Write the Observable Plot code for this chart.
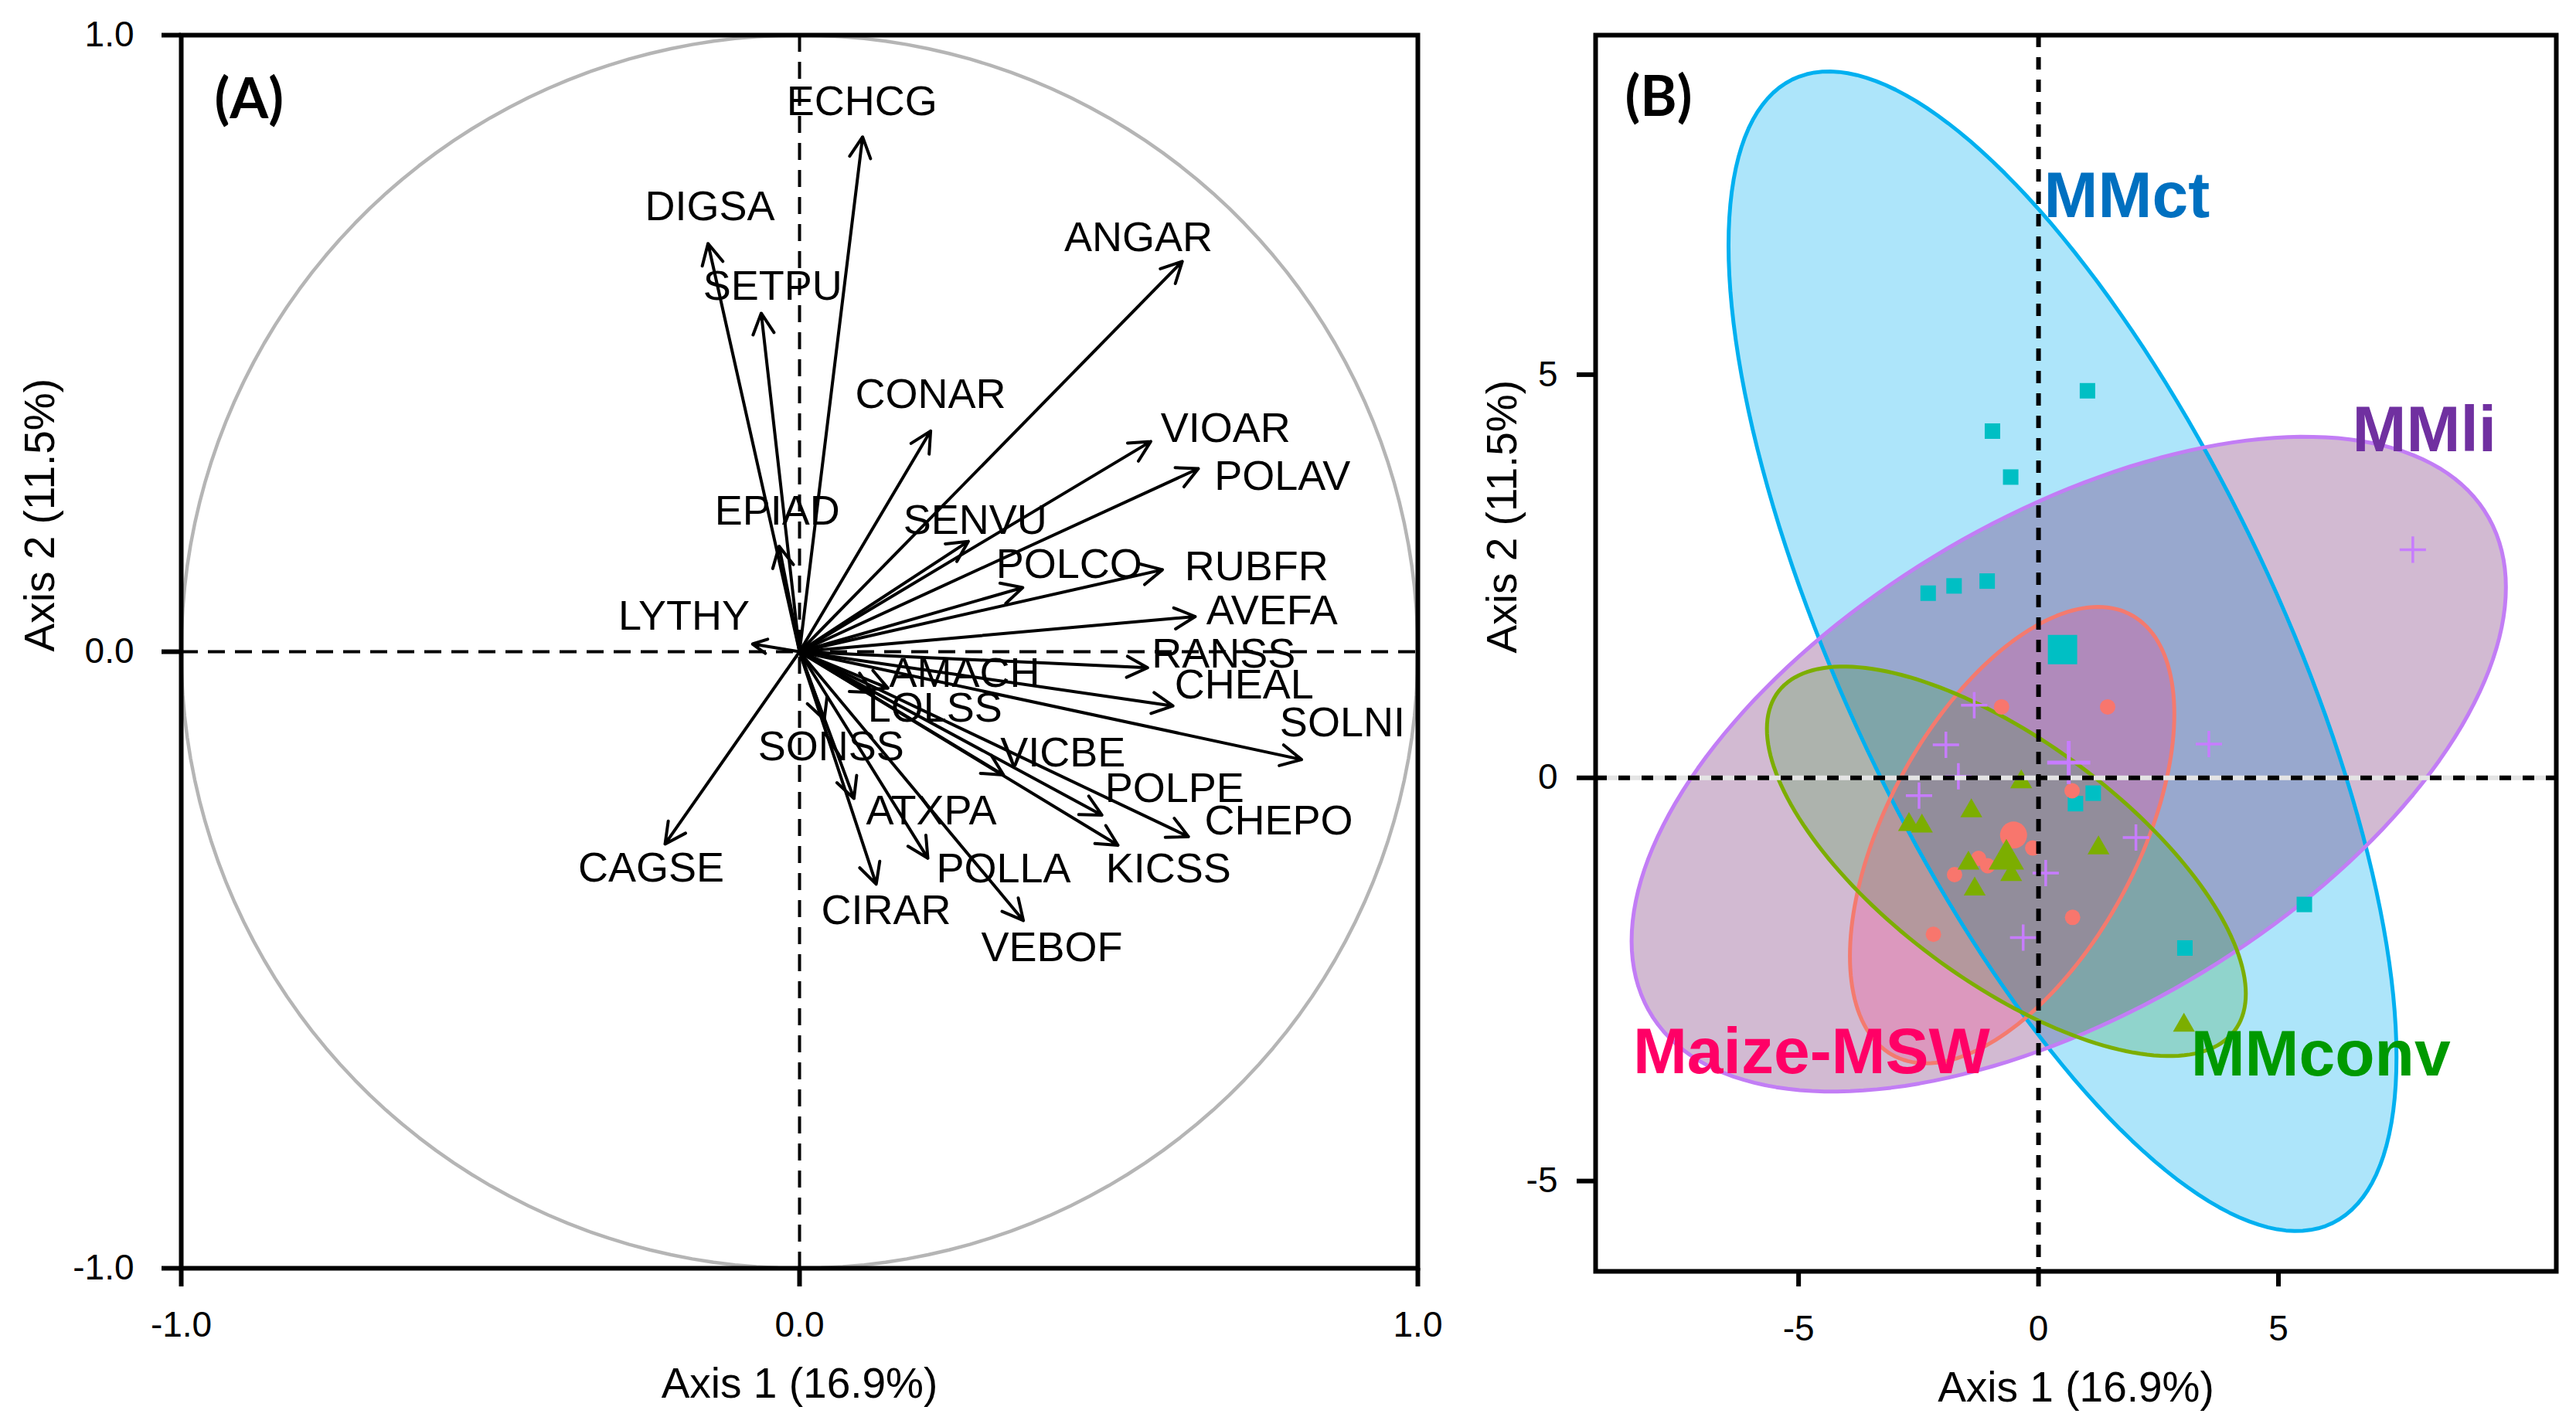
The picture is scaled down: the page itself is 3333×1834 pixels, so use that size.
<!DOCTYPE html>
<html><head><meta charset="utf-8">
<script src="https://cdn.jsdelivr.net/npm/d3@7"></script>
<script src="https://cdn.jsdelivr.net/npm/@observablehq/plot@0.6"></script>
<style>
html,body{margin:0;padding:0;background:#fff;}
#wrap{position:relative;width:3333px;height:1834px;overflow:hidden;background:#fff;}
#pa{position:absolute;left:0;top:0;width:1900px;height:1834px;}
#pb{position:absolute;left:1900px;top:0;width:1433px;height:1834px;}
</style></head><body>
<div id="wrap"><div id="pa"></div><div id="pb"></div></div>
<script>
const FONT = '"Liberation Sans", Arial, Helvetica, sans-serif';

// ---------------- Panel A data: correlation circle ----------------
const species = ["ECHCG","DIGSA","SETPU","ANGAR","CONAR","VIOAR","POLAV","EPIAD","SENVU","POLCO","RUBFR","AVEFA","LYTHY","RANSS","CHEAL","AMACH","LOLSS","SOLNI","SONSS","VICBE","POLPE","CHEPO","ATXPA","CAGSE","POLLA","KICSS","CIRAR","VEBOF"];
const tipX = [0.102,-0.148,-0.062,0.619,0.212,0.568,0.645,-0.033,0.273,0.361,0.587,0.640,-0.076,0.563,0.604,0.143,0.118,0.812,0.040,0.330,0.489,0.629,0.088,-0.2175,0.2075,0.515,0.124,0.362];
const tipY = [0.835,0.662,0.549,0.633,0.358,0.341,0.297,0.171,0.179,0.104,0.133,0.057,0.0125,-0.026,-0.088,-0.059,-0.066,-0.175,-0.110,-0.200,-0.265,-0.300,-0.238,-0.312,-0.335,-0.314,-0.377,-0.436];
const labelX = [0.101,-0.145,-0.0435,0.548,0.212,0.689,0.781,-0.036,0.284,0.436,0.739,0.764,-0.187,0.686,0.719,0.267,0.219,0.878,0.051,0.426,0.6065,0.775,0.213,-0.240,0.330,0.5966,0.140,0.408];
const labelY = [0.892,0.721,0.592,0.671,0.417,0.362,0.284,0.228,0.213,0.141,0.137,0.0665,0.057,-0.0044,-0.054,-0.035,-0.092,-0.116,-0.155,-0.165,-0.222,-0.275,-0.258,-0.351,-0.352,-0.352,-0.420,-0.480];
const ticksA = [-1, 0, 1];

// ---------------- Panel B data: group scores ----------------
const groups = ["MMct","MMli","Maize-MSW","MMconv"];
const mmctX = [1.02,-0.96,-0.58,-2.30,-1.76,-1.07,0.77,1.14,3.05,5.54];
const mmctY = [4.80,4.30,3.73,2.29,2.38,2.44,-0.32,-0.19,-2.11,-1.57];
const mmliX = [7.80,3.55,-1.34,-1.93,-1.67,-2.49,0.15,-0.32,2.03];
const mmliY = [2.83,0.42,0.90,0.41,0.02,-0.22,-1.18,-1.98,-0.74];
const mswX = [-0.77,1.44,0.70,-0.12,-1.25,-1.06,-1.75,0.71,-2.19];
const mswY = [0.88,0.88,-0.16,-0.87,-1.00,-1.09,-1.20,-1.73,-1.94];
const convX = [-0.36,-1.40,-2.70,-2.43,1.25,-0.57,-1.46,-1.33,3.03];
const convY = [-0.05,-0.41,-0.58,-0.60,-0.87,-1.20,-1.06,-1.38,-3.07];
const centroidX = [0.50, 0.63, -0.52, -0.67];
const centroidY = [1.59, 0.19, -0.71, -1.01];
// ellipse parameters: centre, spread along axes, correlation
const ellCX = [0.50, 0.63, -0.55, -0.67];
const ellCY = [1.57, 0.17, -0.71, -1.035];
const ellSX = [6.96, 9.11, 3.38, 4.99];
const ellSY = [7.19, 4.06, 2.83, 2.415];
const ellRho = [-0.70, 0.54, 0.53, -0.68];
const groupLabelX = [1.84, 8.04, -4.73, 5.88];
const groupLabelY = [7.21, 4.31, -3.40, -3.43];
const ticksB = [-5, 0, 5];

// styles
const pointColor = ["#00BFC4","#C77CFF","#F8766D","#7CAE00"];
const ellStroke = ["#00B0F0","#C27DF5","#F47A6E","#7CAE00"];
const ellFill = ["#00AEEF","#6A1B6A","#FF3080","#2A9A2A"];
const ellFillOpacity = [0.32, 0.30, 0.24, 0.22];
const labelColor = ["#0070C0","#7030A0","#FF0066","#009900"];

// ---------------- build A ----------------
const arrowsA = species.map((s, i) => ({name: s, x0: 0, y0: 0, x: tipX[i], y: tipY[i], lx: labelX[i], ly: labelY[i]}));
const circle = d3.range(0, 361, 2).map(a => ({x: Math.cos(a * Math.PI / 180), y: Math.sin(a * Math.PI / 180)}));

const plotA = Plot.plot({
  width: 1900, height: 1834,
  marginLeft: 234, marginRight: 66, marginTop: 45, marginBottom: 193,
  x: {domain: [-1, 1]}, y: {domain: [-1, 1]},
  style: {fontFamily: FONT, background: "white", color: "black"},
  marks: [
    Plot.line(circle, {x: "x", y: "y", stroke: "#b5b5b5", strokeWidth: 4.5}),
    Plot.ruleX([0], {stroke: "black", strokeWidth: 4, strokeDasharray: "22,13"}),
    Plot.ruleY([0], {stroke: "black", strokeWidth: 4, strokeDasharray: "22,13"}),
    Plot.arrow(arrowsA, {x1: "x0", y1: "y0", x2: "x", y2: "y", stroke: "black", strokeWidth: 4, headAngle: 54, headLength: 11.25}),
    Plot.text(arrowsA, {x: "lx", y: "ly", text: "name", fontSize: 54, fill: "black", textAnchor: "middle", lineAnchor: "middle"}),
    Plot.text(["(A)"], {frameAnchor: "top-left", dx: 43, dy: 84, textAnchor: "start", lineAnchor: "middle", fontSize: 72, fontWeight: "bold", fontFamily: "Lato, 'Open Sans', sans-serif", fill: "black"}),
    Plot.frame({stroke: "black", strokeWidth: 6}),
    Plot.axisX(ticksA, {anchor: "bottom", tickSize: 24, tickPadding: 32, strokeWidth: 6, fontSize: 46, tickFormat: d => d.toFixed(1), label: null}),
    Plot.axisY(ticksA, {anchor: "left", tickSize: 25, tickPadding: 36, strokeWidth: 6, fontSize: 46, tickFormat: d => d.toFixed(1), label: null}),
    Plot.text(["Axis 1 (16.9%)"], {frameAnchor: "bottom", dy: 167, lineAnchor: "bottom", fontSize: 55, fill: "black"}),
    Plot.text(["Axis 2 (11.5%)"], {frameAnchor: "left", dx: -204, rotate: -90, lineAnchor: "top", fontSize: 55, fill: "black"})
  ]
});
document.getElementById("pa").appendChild(plotA);

// ---------------- build B ----------------
function ellipse(i) {
  const r = ellRho[i], q = Math.sqrt(1 - r * r);
  return d3.range(0, 360, 2).map(a => {
    const t = a * Math.PI / 180;
    return {x: ellCX[i] + ellSX[i] * Math.cos(t), y: ellCY[i] + ellSY[i] * (r * Math.cos(t) + q * Math.sin(t))};
  });
}
const ells = groups.map((g, i) => ellipse(i));
const pts = (X, Y) => X.map((x, i) => ({x, y: Y[i]}));
const ctPts = pts(mmctX, mmctY), liPts = pts(mmliX, mmliY), swPts = pts(mswX, mswY), cvPts = pts(convX, convY);
const cent = groups.map((g, i) => ({g, x: centroidX[i], y: centroidY[i]}));
const glabels = groups.map((g, i) => ({g, x: groupLabelX[i], y: groupLabelY[i], c: labelColor[i]}));

const marksB = [];
ells.forEach((e, i) => marksB.push(Plot.line(e, {x: "x", y: "y", curve: "linear-closed", stroke: "none", fill: ellFill[i], fillOpacity: ellFillOpacity[i]})));
ells.forEach((e, i) => marksB.push(Plot.line(e, {x: "x", y: "y", curve: "linear-closed", stroke: ellStroke[i], strokeWidth: 5, fill: "none"})));
marksB.push(
  Plot.dot(ctPts, {x: "x", y: "y", symbol: "square", r: 11.3, fill: pointColor[0], stroke: "none"}),
  Plot.dot(swPts, {x: "x", y: "y", symbol: "circle", r: 10, fill: pointColor[2], stroke: "none"}),
  Plot.dot(cvPts, {x: "x", y: "y", symbol: "triangle", r: 10.5, fill: pointColor[3], stroke: "none"}),
  Plot.dot(liPts, {x: "x", y: "y", symbol: "plus", r: 11, stroke: pointColor[1], strokeWidth: 3.5, fill: "none"}),
  Plot.dot([cent[0]], {x: "x", y: "y", symbol: "square", r: 21.4, fill: pointColor[0], stroke: "none"}),
  Plot.dot([cent[2]], {x: "x", y: "y", symbol: "circle", r: 17.5, fill: pointColor[2], stroke: "none"}),
  Plot.dot([cent[3]], {x: "x", y: "y", symbol: "triangle", r: 17, fill: pointColor[3], stroke: "none"}),
  Plot.dot([cent[1]], {x: "x", y: "y", symbol: "plus", r: 18, stroke: pointColor[1], strokeWidth: 5, fill: "none"}),
  Plot.ruleY([0], {stroke: "#e4e4e4", strokeWidth: 6}),
  Plot.ruleY([0], {stroke: "black", strokeWidth: 6, strokeDasharray: "15,15"}),
  Plot.ruleX([0], {stroke: "black", strokeWidth: 6, strokeDasharray: "16,13"}),
  Plot.text(glabels, {x: "x", y: "y", text: "g", fill: "c", fontSize: 84, fontWeight: "bold", textAnchor: "middle", lineAnchor: "middle"}),
  Plot.text(["(B)"], {frameAnchor: "top-left", dx: 38, dy: 81, textAnchor: "start", lineAnchor: "middle", fontSize: 72, fontWeight: "bold", fontFamily: "Lato, 'Open Sans', sans-serif", fill: "black"}),
  Plot.frame({stroke: "black", strokeWidth: 6}),
  Plot.axisX(ticksB, {anchor: "bottom", tickSize: 20, tickPadding: 37, strokeWidth: 6, fontSize: 46, tickFormat: d => String(d), label: null}),
  Plot.axisY(ticksB, {anchor: "left", tickSize: 24, tickPadding: 25, strokeWidth: 6, fontSize: 46, tickFormat: d => String(d), label: null}),
  Plot.text(["Axis 1 (16.9%)"], {frameAnchor: "bottom", dy: 168, lineAnchor: "bottom", fontSize: 55, fill: "black"}),
  Plot.text(["Axis 2 (11.5%)"], {frameAnchor: "left", dx: -142, rotate: -90, lineAnchor: "top", fontSize: 55, fill: "black"})
);

const plotB = Plot.plot({
  width: 1433, height: 1834,
  marginLeft: 164, marginRight: 26, marginTop: 45, marginBottom: 189,
  x: {domain: [-9.23, 10.79]}, y: {domain: [-6.12, 9.21]},
  style: {fontFamily: FONT, background: "white", color: "black"},
  marks: marksB
});
document.getElementById("pb").appendChild(plotB);

// make the axis tick strokes heavy like the reference
[plotA, plotB].forEach(svg => {
  svg.querySelectorAll('g[aria-label$="axis tick"]').forEach(g => {
    g.setAttribute("stroke-width", "6");
    g.querySelectorAll("path,line").forEach(p => p.setAttribute("stroke-width", "6"));
  });
});
</script></body></html>
